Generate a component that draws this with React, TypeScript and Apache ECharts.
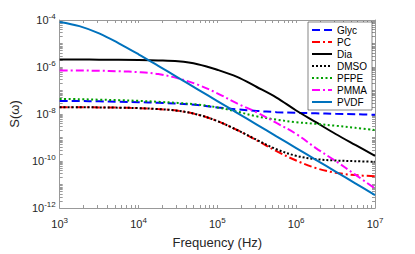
import React, { useEffect, useRef } from "react";
import * as echarts from "echarts";

const freqHz = [1000, 1778, 3162, 5623, 10000, 17783, 31623, 56234, 100000, 177828, 316228, 562341, 1000000, 1778279, 3162278, 5623413, 10000000];

const glyc = [3.55e-8, 3.55e-8, 3.47e-8, 3.31e-8, 3.16e-8, 3.02e-8, 2.75e-8, 2.4e-8, 1.91e-8, 1.58e-8, 1.35e-8, 1.2e-8, 1.12e-8, 1.07e-8, 1.02e-8, 9.8e-9, 9.3e-9];
const pc = [1.95e-8, 1.95e-8, 1.91e-8, 1.86e-8, 1.78e-8, 1.62e-8, 1.38e-8, 9.5e-9, 5.0e-9, 2.09e-9, 7.6e-10, 2.63e-10, 1.05e-10, 5.0e-11, 3.16e-11, 2.51e-11, 2.24e-11];
const dia = [2.09e-6, 2.09e-6, 2.04e-6, 2.04e-6, 2.0e-6, 1.91e-6, 1.74e-6, 1.32e-6, 7.6e-7, 3.8e-7, 1.41e-7, 5.0e-8, 1.41e-8, 4.47e-9, 1.41e-9, 4.8e-10, 1.66e-10];
const dmso = [1.95e-8, 1.95e-8, 1.91e-8, 1.86e-8, 1.78e-8, 1.62e-8, 1.38e-8, 9.5e-9, 5.0e-9, 2.09e-9, 7.94e-10, 3.16e-10, 1.66e-10, 1.2e-10, 1.05e-10, 9.8e-11, 9.3e-11];
const pfpe = [4.37e-8, 4.27e-8, 4.07e-8, 3.89e-8, 3.63e-8, 3.31e-8, 2.95e-8, 2.51e-8, 1.91e-8, 1.26e-8, 7.94e-9, 5.75e-9, 4.47e-9, 3.8e-9, 3.16e-9, 2.57e-9, 2.09e-9];
const pmma = [7.08e-7, 7.08e-7, 6.92e-7, 6.6e-7, 6.03e-7, 5.0e-7, 3.31e-7, 1.78e-7, 7.6e-8, 2.82e-8, 1.17e-8, 4.17e-9, 1.41e-9, 3.55e-10, 1.0e-10, 2.63e-11, 6.76e-12];
const pvdf = [8.3e-5, 5.5e-5, 2.7e-5, 1.02e-5, 3.47e-6, 1.12e-6, 3.55e-7, 1.12e-7, 3.55e-8, 1.12e-8, 3.55e-9, 1.12e-9, 3.55e-10, 1.12e-10, 3.55e-11, 1.12e-11, 3.55e-12];

const seriesNames = ["Glyc", "PC", "Dia", "DMSO", "PFPE", "PMMA", "PVDF"];
const seriesValues = [glyc, pc, dia, dmso, pfpe, pmma, pvdf];
const seriesColors = ["#0000FF", "#FF0000", "#000000", "#000000", "#00A000", "#FF00FF", "#0072BD"];
const seriesDash: any[] = [[8, 4], [8, 3, 2, 3], "solid", [2, 2], [2, 2.5], [8, 3, 2, 3], "solid"];

const xLabelTicks = [1e3, 1e4, 1e5, 1e6, 1e7];
const yLabelTicks = [1e-12, 1e-10, 1e-8, 1e-6, 1e-4];
const xDecades = [3, 4, 5, 6];
const yDecades = [-12, -11, -10, -9, -8, -7, -6, -5];

function allTicks(decades: number[]) {
  const out: number[] = [];
  decades.forEach((d) => {
    for (let k = 1; k <= 9; k++) out.push(Number((k * Math.pow(10, d)).toPrecision(3)));
  });
  out.push(Number(Math.pow(10, decades[decades.length - 1] + 1).toPrecision(3)));
  return out;
}

const FONT = "'Liberation Sans', Arial, Helvetica, sans-serif";
const AXIS_COLOR = "#999999";
const TEXT_COLOR = "#262626";

const richLabel = {
  b: { fontSize: 11, color: TEXT_COLOR, fontFamily: FONT },
  s: { fontSize: 8, color: TEXT_COLOR, fontFamily: FONT, padding: [0, 0, 8, 0] },
};

const expFormatter = (v: number) => `{b|10}{s|${Math.round(Math.log10(v))}}`;

export default function App() {
  const ref = useRef<HTMLDivElement>(null);
  useEffect(() => {
    if (!ref.current) return;
    const chart = echarts.init(ref.current, null, { renderer: "svg" });
    const xTicks = allTicks(xDecades);
    const yTicks = allTicks(yDecades);
    const baseX = {
      type: "log",
      logBase: 10,
      min: 1e3,
      max: 1e7,
      splitLine: { show: false },
      axisLine: { show: true, lineStyle: { color: AXIS_COLOR, width: 1 } },
      axisTick: { show: true, inside: true, length: 3, customValues: xTicks, lineStyle: { color: AXIS_COLOR } },
    };
    const baseY = {
      type: "log",
      logBase: 10,
      min: 1e-12,
      max: 1e-4,
      splitLine: { show: false },
      axisLine: { show: true, lineStyle: { color: AXIS_COLOR, width: 1 } },
      axisTick: { show: true, inside: true, length: 3, customValues: yTicks, lineStyle: { color: AXIS_COLOR } },
    };
    chart.setOption({
      animation: false,
      textStyle: { fontFamily: FONT },
      grid: { left: 54, top: 20, right: 40, bottom: 43, containLabel: false },
      legend: {
        orient: "vertical",
        right: 43,
        top: 22,
        data: seriesNames,
        itemWidth: 20,
        itemHeight: 10,
        itemGap: 2,
        padding: [3, 5, 3, 3],
        backgroundColor: "#ffffff",
        borderColor: "#333333",
        borderWidth: 0.6,
        borderRadius: 0,
        itemStyle: { opacity: 0, color: "transparent", borderColor: "transparent", borderWidth: 0 },
        textStyle: { fontSize: 10, color: "#000000", fontFamily: FONT },
      },
      xAxis: [
        {
          ...baseX,
          position: "bottom",
          name: "Frequency (Hz)",
          nameLocation: "middle",
          nameGap: 28,
          nameTextStyle: { fontSize: 13, color: TEXT_COLOR, fontFamily: FONT },
          axisLabel: { show: true, margin: 8, customValues: xLabelTicks, formatter: expFormatter, rich: richLabel },
        },
        { ...baseX, position: "top", axisLabel: { show: false } },
      ],
      yAxis: [
        {
          ...baseY,
          position: "left",
          name: "S(ω)",
          nameLocation: "middle",
          nameGap: 32,
          nameRotate: 90,
          nameTextStyle: { fontSize: 13, color: TEXT_COLOR, fontFamily: FONT },
          axisLabel: { show: true, margin: 4, customValues: yLabelTicks, formatter: expFormatter, rich: richLabel },
        },
        { ...baseY, position: "right", axisLabel: { show: false } },
      ],
      series: seriesNames.map((name, i) => ({
        name,
        type: "line",
        xAxisIndex: 0,
        yAxisIndex: 0,
        data: freqHz.map((f, j) => [f, seriesValues[i][j]]),
        showSymbol: false,
        symbol: "none",
        smooth: 0.35,
        color: seriesColors[i],
        lineStyle: { color: seriesColors[i], width: 2, type: seriesDash[i], cap: "butt" },
      })),
    } as any);
    return () => chart.dispose();
  }, []);
  return <div ref={ref} style={{ position: "fixed", left: 0, top: 0, width: 415, height: 254, background: "#fff" }} />;
}
